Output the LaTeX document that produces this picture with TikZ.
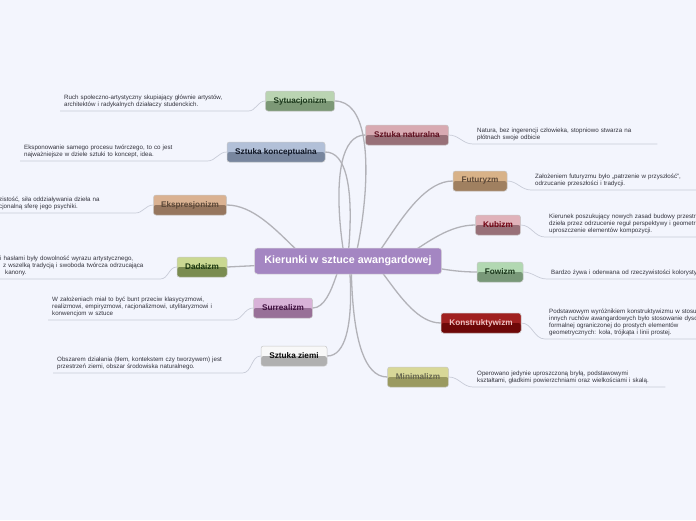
\documentclass[tikz,border=0pt]{standalone}
\usepackage{fontspec}
\setmainfont{Liberation Sans}
\definecolor{bg}{RGB}{243,245,253}
\definecolor{linegray}{RGB}{178,178,184}
\definecolor{leafgray}{RGB}{200,204,216}
\definecolor{txtgray}{RGB}{50,50,60}
\definecolor{rootfill}{RGB}{164,134,194}
% topic colours: light top, dark bottom, text
\definecolor{sytA}{RGB}{186,212,178}\definecolor{sytB}{RGB}{124,152,118}\definecolor{sytT}{RGB}{28,56,28}
\definecolor{konA}{RGB}{178,192,216}\definecolor{konB}{RGB}{120,134,158}\definecolor{konT}{RGB}{16,22,36}
\definecolor{ekA}{RGB}{218,178,146}\definecolor{ekB}{RGB}{150,118,94}\definecolor{ekT}{RGB}{92,72,56}
\definecolor{daA}{RGB}{202,216,146}\definecolor{daB}{RGB}{122,140,80}\definecolor{daT}{RGB}{28,56,16}
\definecolor{suA}{RGB}{216,178,216}\definecolor{suB}{RGB}{152,112,152}\definecolor{suT}{RGB}{64,16,64}
\definecolor{ziA}{RGB}{248,248,248}\definecolor{ziB}{RGB}{176,176,176}\definecolor{ziT}{RGB}{10,10,10}
\definecolor{naA}{RGB}{216,170,178}\definecolor{naB}{RGB}{152,112,120}\definecolor{naT}{RGB}{96,16,32}
\definecolor{fuA}{RGB}{216,178,136}\definecolor{fuB}{RGB}{160,128,96}\definecolor{fuT}{RGB}{92,72,56}
\definecolor{kuA}{RGB}{224,178,186}\definecolor{kuB}{RGB}{152,112,120}\definecolor{kuT}{RGB}{112,0,16}
\definecolor{foA}{RGB}{178,216,178}\definecolor{foB}{RGB}{120,152,120}\definecolor{foT}{RGB}{28,56,28}
\definecolor{ksA}{RGB}{160,32,32}\definecolor{ksB}{RGB}{110,8,8}\definecolor{ksT}{RGB}{240,196,196}
\definecolor{miA}{RGB}{216,216,152}\definecolor{miB}{RGB}{154,154,96}\definecolor{miT}{RGB}{104,104,80}
\tikzset{
  branch/.style={draw=linegray, line width=1.3pt},
  leaf/.style={draw=leafgray, line width=0.7pt},
  topic/.style n args={3}{draw=black!22, line width=0.5pt, rounded corners=2.5pt,
    fill=#1, text=#3, minimum height=20pt, inner xsep=6pt,
    font=\fontsize{8.2}{9}\selectfont\bfseries,
    path picture={\fill[#2] (path picture bounding box.west) rectangle (path picture bounding box.south east);}},
  desc/.style={anchor=south west, align=left, inner xsep=4pt, inner ysep=3pt,
    text=txtgray, font=\fontsize{6.2}{7}\selectfont}
}
\begin{document}
\begin{tikzpicture}[x=1pt,y=-1pt]
\fill[bg] (0,0) rectangle (696,520);
\useasboundingbox (0,0) rectangle (696,520);

% left side
\node[topic={sytA}{sytB}{sytT}, minimum width=69pt] (syt) at (300,101) {Sytuacjonizm};
\node[topic={konA}{konB}{konT}, minimum width=98pt] (konc) at (276,152) {Sztuka konceptualna};
\node[topic={ekA}{ekB}{ekT}, minimum width=73pt] (eksp) at (190,205) {Ekspresjonizm};
\node[topic={daA}{daB}{daT}, minimum width=50pt] (dada) at (202,267) {Dadaizm};
\node[topic={suA}{suB}{suT}, minimum width=59pt] (surr) at (283,308) {Surrealizm};
\node[topic={ziA}{ziB}{ziT}, minimum width=66pt] (ziemi) at (294,356) {Sztuka ziemi};

% right side
\node[topic={naA}{naB}{naT}, minimum width=83pt] (nat) at (407,135) {Sztuka naturalna};
\node[topic={fuA}{fuB}{fuT}, minimum width=54pt] (fut) at (480,181) {Futuryzm};
\node[topic={kuA}{kuB}{kuT}, minimum width=45pt] (kub) at (498,225) {Kubizm};
\node[topic={foA}{foB}{foT}, minimum width=46pt] (fow) at (500,272) {Fowizm};
\node[topic={ksA}{ksB}{ksT}, minimum width=80pt] (kon) at (481,323) {Konstruktywizm};
\node[topic={miA}{miB}{miT}, minimum width=61pt] (min) at (418,377) {Minimalizm};

% descriptions
\node[desc, text width=180pt] (sytD) at (60,111) {Ruch społeczno-artystyczny skupiający głównie artystów,\\ architektów i radykalnych działaczy studenckich.};
\node[desc, text width=179pt] (koncD) at (20,161) {Eksponowanie samego procesu twórczego, to co jest\\ najważniejsze w dziele sztuki to koncept, idea.};
\node[desc, text width=132pt] (ekspD) at (-5,213) {zistość, siła oddziaływania dzieła na\\ cjonalną sferę jego psychiki.};
\node[desc, text width=156pt] (dadaD) at (-4,279) {i hasłami były dowolność wyrazu artystycznego,\\ \hspace*{3pt}z wszelką tradycją i swoboda twórcza odrzucająca\\ \hspace*{5pt}kanony.};
\node[desc, text width=177pt] (surrD) at (48,320) {W założeniach miał to być bunt przeciw klasycyzmowi,\\ realizmowi, empiryzmowi, racjonalizmowi, utylitaryzmowi i\\ konwencjom w sztuce};
\node[desc, text width=181pt] (ziemiD) at (53,373) {Obszarem działania (tłem, kontekstem czy tworzywem) jest\\ przestrzeń ziemi, obszar środowiska naturalnego.};
\node[desc, text width=176pt] (natD) at (473,144) {Natura, bez ingerencji człowieka, stopniowo stwarza na\\ płótnach swoje odbicie};
\node[desc, text width=170pt] (futD) at (531,190) {Założeniem futuryzmu było „patrzenie w przyszłość”,\\ odrzucanie przeszłości i tradycji.};
\node[desc, text width=160pt] (kubD) at (545,237) {Kierunek poszukujący nowych zasad budowy przestrz\\ dzieła przez odrzucenie reguł perspektywy i geometr\\ uproszczenie elementów kompozycji.};
\node[desc, text width=160pt] (fowD) at (547,279) {Bardzo żywa i oderwana od rzeczywistości kolorystyk};
\node[desc, text width=160pt] (konD) at (545,339) {Podstawowym wyróżnikiem konstruktywizmu w stosu\\ innych ruchów awangardowych było stosowanie dysc\\ formalnej ograniczonej do prostych elementów\\ geometrycznych: koła, trójkąta i linii prostej.};
\node[desc, text width=184pt] (minD) at (473,387) {Operowano jedynie uproszczoną bryłą, podstawowymi\\ kształtami, gładkimi powierzchniami oraz wielkościami i skalą.};

% leaf connectors
\draw[leaf] (syt.west) to[out=180,in=0] (sytD.south east) -- (sytD.south west);
\draw[leaf] (konc.west) to[out=180,in=0] (koncD.south east) -- (koncD.south west);
\draw[leaf] (eksp.west) to[out=180,in=0] (ekspD.south east) -- (ekspD.south west);
\draw[leaf] (dada.west) to[out=180,in=0] (dadaD.south east) -- (dadaD.south west);
\draw[leaf] (surr.west) to[out=180,in=0] (surrD.south east) -- (surrD.south west);
\draw[leaf] (ziemi.west) to[out=180,in=0] (ziemiD.south east) -- (ziemiD.south west);
\draw[leaf] (nat.east) to[out=0,in=180] (natD.south west) -- (natD.south east);
\draw[leaf] (fut.east) to[out=0,in=180] (futD.south west) -- (futD.south east);
\draw[leaf] (kub.east) to[out=0,in=180] (kubD.south west) -- (kubD.south east);
\draw[leaf] (fow.east) to[out=0,in=180] (fowD.south west) -- (fowD.south east);
\draw[leaf] (kon.east) to[out=0,in=180] (konD.south west) -- (konD.south east);
\draw[leaf] (min.east) to[out=0,in=180] (minD.south west) -- (minD.south east);

% branches
\coordinate (hub) at (348,261);
\draw[branch] (hub) to[out=-92,in=0] (syt.east);
\draw[branch] (hub) to[out=-100,in=0] (konc.east);
\draw[branch] (hub) to[out=-125,in=0] (eksp.east);
\draw[branch] (hub) -- (dada.east);
\draw[branch] (hub) to[out=110,in=0] (surr.east);
\draw[branch] (hub) to[out=95,in=0] (ziemi.east);
\draw[branch] (hub) to[out=-85,in=180] (nat.west);
\draw[branch] (hub) to[out=-70,in=180] (fut.west);
\draw[branch] (hub) to[out=-40,in=180] (kub.west);
\draw[branch] (hub) to[out=10,in=180] (fow.west);
\draw[branch] (hub) to[out=60,in=180] (kon.west);
\draw[branch] (hub) to[out=80,in=180] (min.west);

\node[draw=black!15, line width=0.5pt, fill=rootfill, rounded corners=3pt, text=white,
  minimum width=187pt, minimum height=26pt, font=\fontsize{10.7}{12}\selectfont\bfseries] (kier) at (hub) {Kierunki w sztuce awangardowej};
\end{tikzpicture}
\end{document}
